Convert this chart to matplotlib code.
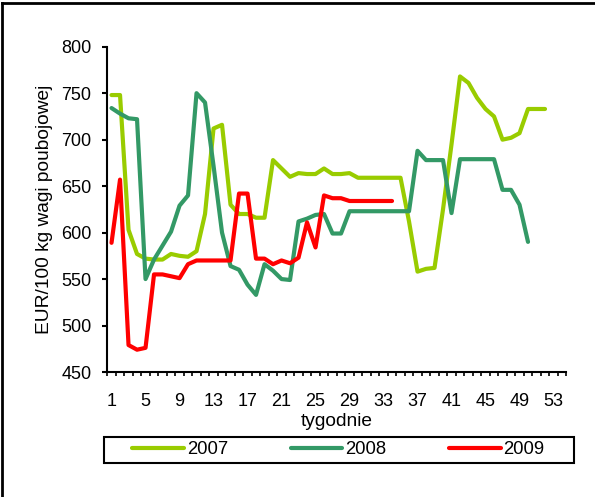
import numpy as np
from matplotlib import pyplot as plt
from matplotlib.lines import Line2D
from matplotlib.patches import Rectangle

plt.rcParams["font.family"] = ["Liberation Sans", "DejaVu Sans"]

# weekly prices, EUR/100 kg carcass weight
y2007 = [748, 748, 603, 577, 572, 571, 571, 577, 575, 574, 580, 620, 712, 716,
         630, 620, 620, 616, 616, 678, 669, 660, 664, 663, 663, 669, 663, 663,
         664, 659, 659, 659, 659, 659, 659, 612, 558, 561, 562, 625, 695, 768,
         761, 745, 733, 725, 700, 702, 707, 733, 733, 733]
y2008 = [734, 728, 723, 722, 550, 571, 586, 601, 629, 640, 750, 740, 672, 600,
         564, 560, 544, 533, 566, 559, 550, 549, 612, 615, 619, 620, 599, 599,
         623, 623, 623, 623, 623, 623, 623, 623, 688, 678, 678, 678, 621, 679,
         679, 679, 679, 679, 646, 646, 630, 590]
y2009 = [589, 657, 479, 474, 476, 555, 555, 553, 551, 566, 570, 570, 570, 570,
         570, 642, 642, 572, 572, 566, 570, 567, 573, 611, 584, 640, 637, 637,
         634, 634, 634, 634, 634, 634]

years = ["2007", "2008", "2009"]
colors = ["#99CC00", "#339966", "#FF0000"]
x_labels = list(range(1, 54, 4))


def main():
    fig = plt.figure(figsize=(5.95, 4.97), dpi=100)
    ax = fig.add_axes([0.1803, 0.2515, 0.7714, 0.6545])

    for ys, name, c in zip([y2007, y2008, y2009], years, colors):
        x = np.arange(1, len(ys) + 1)
        ax.plot(x, ys, color=c, lw=3, label=name, solid_capstyle="round",
                solid_joinstyle="round")

    ax.set_xlim(0.5, 54.5)
    ax.set_ylim(450, 800)
    ax.set_yticks(range(450, 801, 50))
    ax.set_xticks(x_labels)
    ax.set_xticks(np.arange(0.5, 55, 1), minor=True)

    for s in ["top", "right"]:
        ax.spines[s].set_visible(False)
    for s in ["left", "bottom"]:
        ax.spines[s].set_linewidth(1.5)

    ax.tick_params(axis="y", length=3.5, width=1.5, labelsize=13, pad=8)
    ax.tick_params(axis="x", which="major", length=0, labelsize=13, pad=15)
    ax.tick_params(axis="x", which="minor", length=3, width=1.2)

    ax.set_ylabel("EUR/100 kg wagi poubojowej", fontsize=13.8, labelpad=6)
    ax.set_xlabel("tygodnie", fontsize=13.8, labelpad=2)

    handles, labels = ax.get_legend_handles_labels()
    fig.legend(handles, labels, ncol=3, frameon=False, fontsize=13.3,
               loc="center", bbox_to_anchor=(338.5 / 595, 1 - 450 / 497),
               handlelength=2.8, handletextpad=0.15, columnspacing=3.4,
               borderpad=0)
    fig.add_artist(Rectangle((104 / 595, 1 - 463.3 / 497), 470 / 595,
                             26.6 / 497, transform=fig.transFigure,
                             fill=False, lw=1.5, ec="black"))

    # outer frame, left and top edges
    fig.add_artist(Line2D([2 / 595, 2 / 595], [0, 1 - 3 / 497],
                          transform=fig.transFigure, color="black", lw=2))
    fig.add_artist(Line2D([2 / 595, 1], [1 - 3 / 497, 1 - 3 / 497],
                          transform=fig.transFigure, color="black", lw=2))

    fig.savefig("out.png", dpi=100)
    plt.close()


if __name__ == "__main__":
    main()
